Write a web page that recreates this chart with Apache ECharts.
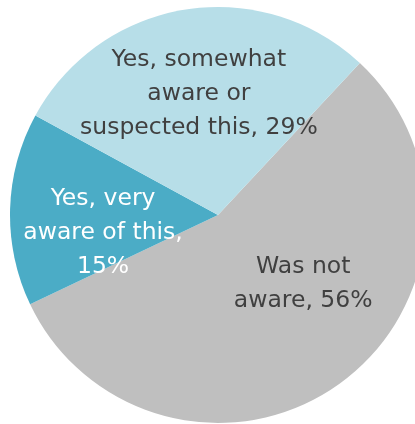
<!DOCTYPE html>
<html>
<head>
<meta charset="utf-8">
<script src="https://cdn.jsdelivr.net/npm/echarts@6/dist/echarts.min.js"></script>
<style>
html,body{margin:0;padding:0;background:#fff;}
#chart{width:415px;height:424px;}
</style>
</head>
<body>
<div id="chart"></div>
<script>
const categories = ["Was not\naware", "Yes, very\naware of this,\n", "Yes, somewhat\naware or\nsuspected this"];
const values = [56, 15, 29];
const colors = ["#BFBFBF", "#4BACC6", "#B7DEE8"];
const labelColors = ["#404040", "#FFFFFF", "#404040"];
const labelOffsets = [[22, -17], [-8, 21], [-2, -15]];

const chart = echarts.init(document.getElementById('chart'), null, {renderer: 'canvas'});
chart.setOption({
  animation: false,
  series: [{
    type: 'pie',
    center: [218, 215],
    radius: 208,
    startAngle: 47,
    clockwise: true,
    avoidLabelOverlap: false,
    label: {
      show: true,
      position: 'inside',
      fontFamily: 'DejaVu Sans',
      fontWeight: 'normal',
      fontSize: 23.5,
      lineHeight: 34,
      align: 'center',
      formatter: function (p) {
        const sep = p.name.endsWith('\n') ? '' : ', ';
        return p.name + sep + p.value + '%';
      }
    },
    labelLine: {show: false},
    emphasis: {disabled: true},
    itemStyle: {borderWidth: 0},
    data: categories.map((c, i) => ({
      name: c,
      value: values[i],
      itemStyle: {color: colors[i]},
      label: {color: labelColors[i], offset: labelOffsets[i]}
    }))
  }]
});
</script>
</body>
</html>
